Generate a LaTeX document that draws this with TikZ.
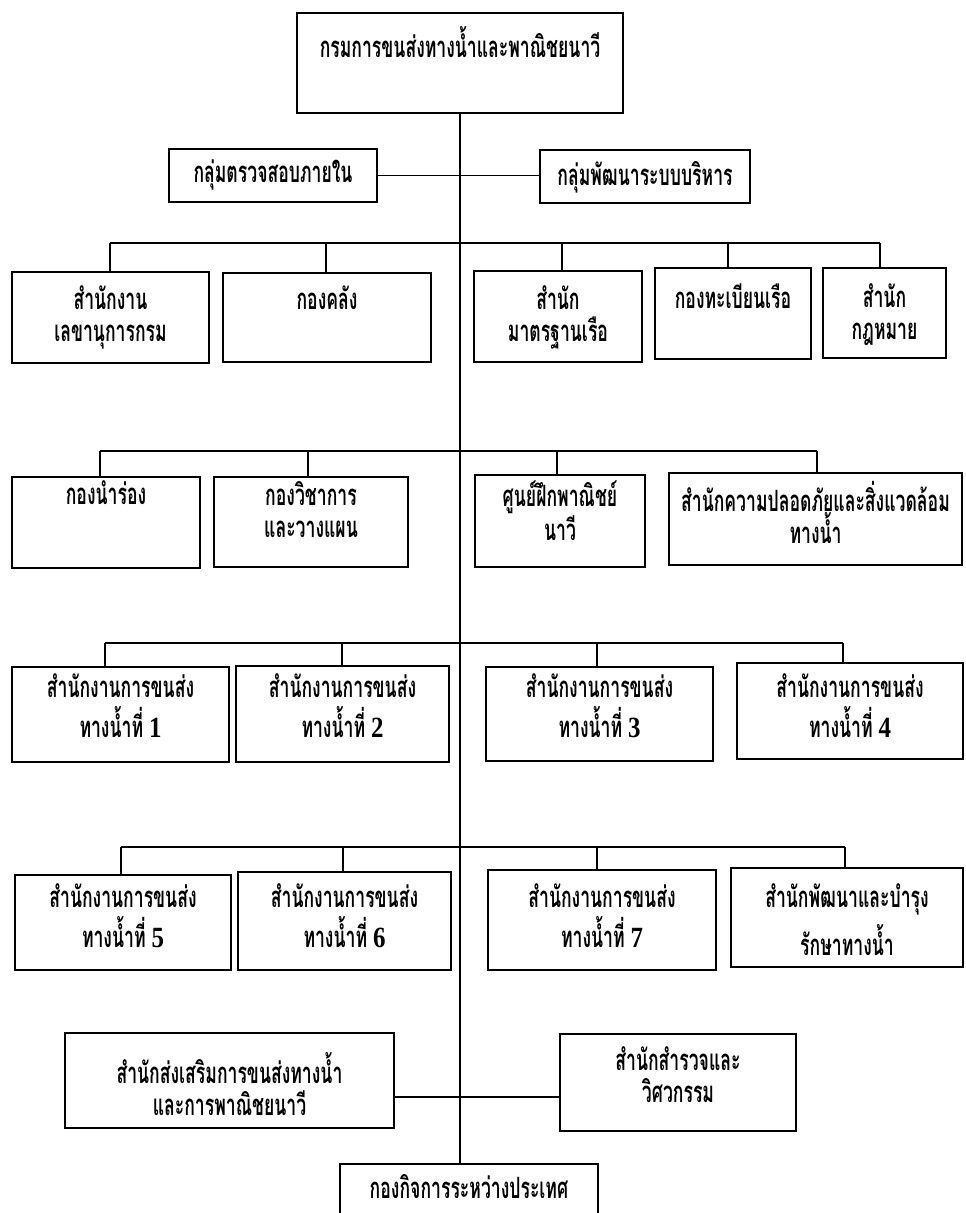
\documentclass[tikz,border=0pt]{standalone}
\usepackage{fontspec}
\newfontfamily\thaifont[Script=Thai,FakeStretch=0.6]{Loma}
\newfontfamily\numfont[FakeStretch=0.85]{Liberation Serif}
\newdimen\px \px=0.75pt
% #1 name, #2 x1, #3 y1, #4 x2, #5 y2, #6 first-line centre below top (px), #7 text
\newcommand\bx[7]{%
  \node[orgbox] (#1) at ({(#2+#4)/2},{(#3+#5)/2})
  {\parbox[c][\dimexpr#5\px-#3\px\relax][t]{\dimexpr#4\px-#2\px\relax}{\centering\vspace*{\dimexpr#6\px-16\px\relax}#7\par}};}
\tikzset{
  orgbox/.style={draw, line width=1.6pt, inner sep=0pt,
    font={\thaifont\bfseries\fontsize{22pt}{24pt}\selectfont}},
  link/.style={line width=1.1pt}
}
\begin{document}
\begin{tikzpicture}[x=0.75pt,y=-0.75pt]
\clip (0,0) rectangle (965,1213);
\fill[white] (0,0) rectangle (965,1213);
% boxes
\bx{top}{297}{13}{623}{113}{29}{กรมการขนส่งทางน้ำและพาณิชยนาวี}
\bx{G1}{169}{149}{377}{202}{27}{กลุ่มตรวจสอบภายใน}
\bx{G2}{540}{150}{750}{203}{27}{กลุ่มพัฒนาระบบบริหาร}
\bx{A1}{12}{272}{209}{363}{30}{สำนักงาน\\เลขานุการกรม}
\bx{A2}{223}{273}{431}{362}{29}{กองคลัง}
\bx{A3}{474}{271}{642}{362}{31}{สำนัก\\มาตรฐานเรือ}
\bx{A4}{655}{268}{811}{359}{32}{กองทะเบียนเรือ}
\bx{A5}{823}{268}{946}{358}{32}{สำนัก\\กฎหมาย}
\bx{B1}{12}{477}{200}{568}{20}{กองนำร่อง}
\bx{B2}{214}{477}{408}{567}{20}{กองวิชาการ\\และวางแผน}
\bx{B3}{475}{475}{645}{567}{22}{ศูนย์ฝึกพาณิชย์\\นาวี}
\bx{B4}{669}{473}{962}{565}{24}{สำนักความปลอดภัยและสิ่งแวดล้อม\\ทางน้ำ}
\bx{C1}{12}{667}{229}{762}{23}{สำนักงานการขนส่ง\\[6pt]ทางน้ำที่ {\numfont 1}}
\bx{C2}{236}{666}{449}{762}{24}{สำนักงานการขนส่ง\\[6pt]ทางน้ำที่ {\numfont 2}}
\bx{C3}{486}{667}{713}{761}{23}{สำนักงานการขนส่ง\\[6pt]ทางน้ำที่ {\numfont 3}}
\bx{C4}{737}{663}{963}{759}{27}{สำนักงานการขนส่ง\\[6pt]ทางน้ำที่ {\numfont 4}}
\bx{D1}{15}{875}{231}{970}{25}{สำนักงานการขนส่ง\\[6pt]ทางน้ำที่ {\numfont 5}}
\bx{D2}{238}{872}{451}{970}{28}{สำนักงานการขนส่ง\\[6pt]ทางน้ำที่ {\numfont 6}}
\bx{D3}{488}{870}{716}{970}{30}{สำนักงานการขนส่ง\\[6pt]ทางน้ำที่ {\numfont 7}}
\bx{D4}{731}{868}{963}{967}{32}{สำนักพัฒนาและบำรุง\\[6pt]รักษาทางน้ำ}
\bx{E1}{65}{1033}{394}{1128}{35}{สำนักส่งเสริมการขนส่งทางน้ำ\\และการพาณิชยนาวี}
\bx{E2}{560}{1034}{796}{1131}{29}{สำนักสำรวจและ\\วิศวกรรม}
\bx{F}{340}{1164}{598}{1232}{26}{กองกิจการระหว่างประเทศ}
% trunk
\draw[link] (top.south) -- (top.south |- F.north);
\draw[link] (G1.east) -- (G1.east -| G2.west);
% bar 1
\coordinate (a1) at (110,243); \coordinate (a2) at (326,243);
\coordinate (a3) at (562,243); \coordinate (a4) at (728,243);
\coordinate (a5) at (880,243);
\draw[link] (a1) -- (a5);
\foreach \i in {1,...,5} \draw[link] (a\i) -- (a\i |- A\i.north);
% bar 2
\coordinate (b1) at (100,451); \coordinate (b2) at (308,451);
\coordinate (b3) at (557,451); \coordinate (b4) at (817,451);
\draw[link] (b1) -- (b4);
\foreach \i in {1,...,4} \draw[link] (b\i) -- (b\i |- B\i.north);
% bar 3
\coordinate (c1) at (105,643); \coordinate (c2) at (342,643);
\coordinate (c3) at (597,643); \coordinate (c4) at (843,643);
\draw[link] (c1) -- (c4);
\foreach \i in {1,...,4} \draw[link] (c\i) -- (c\i |- C\i.north);
% bar 4
\coordinate (d1) at (121,847); \coordinate (d2) at (343,847);
\coordinate (d3) at (597,847); \coordinate (d4) at (845,847);
\draw[link] (d1) -- (d4);
\foreach \i in {1,...,4} \draw[link] (d\i) -- (d\i |- D\i.north);
% bottom link
\coordinate (e) at (461,1097);
\draw[link] (E1.east |- e) -- (E2.west |- e);
\end{tikzpicture}
\end{document}
